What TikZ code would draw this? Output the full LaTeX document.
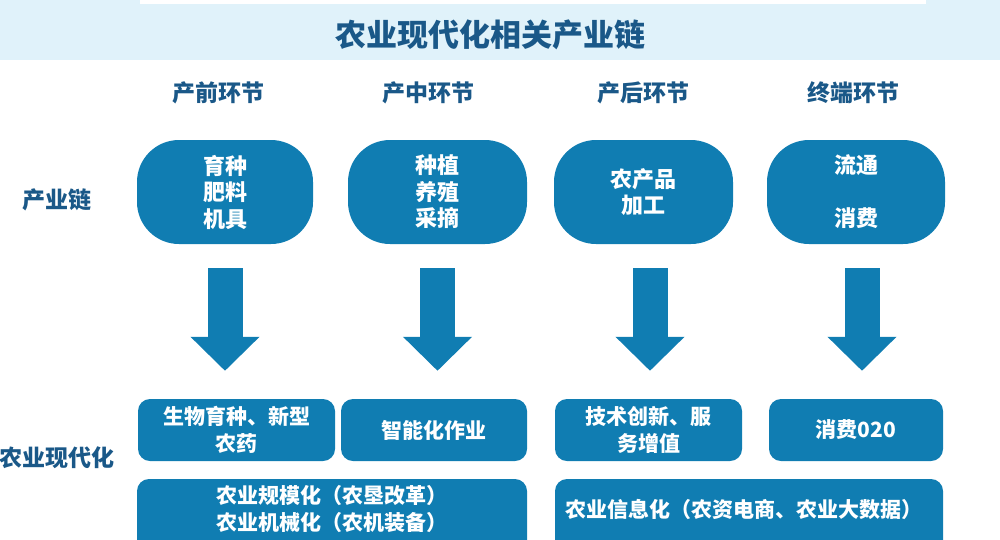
\documentclass[tikz,border=0pt]{standalone}
\usepackage{fontspec}
\setmainfont{Noto Sans CJK SC}
\usetikzlibrary{arrows.meta}
\definecolor{boxblue}{RGB}{16,125,178}
\definecolor{darkblue}{RGB}{26,88,136}
\definecolor{bandblue}{RGB}{224,242,250}
\begin{document}
\begin{tikzpicture}[x=1pt,y=-1pt,
  titletext/.style={text=darkblue, font=\bfseries\fontsize{31}{34}\selectfont, inner sep=0pt},
  headtext/.style={text=darkblue, font=\bfseries\fontsize{23}{26}\selectfont, inner sep=0pt},
  pill/.style={fill=boxblue, rounded corners=42pt, minimum height=104pt, inner sep=0pt, text=white, font=\bfseries\fontsize{22}{26.5}\selectfont, align=center},
  lowbox/.style={fill=boxblue, rounded corners=12pt, minimum height=62pt, inner sep=0pt, text=white, font=\bfseries\fontsize{21}{27}\selectfont, align=center},
  boxtext/.style={text=white, font=\bfseries\fontsize{21}{26.5}\selectfont, align=center, inner sep=0pt},
  bigarrow/.style={draw=boxblue, line width=35pt, -{Triangle[width=67pt,length=34pt,fill=boxblue]}, shorten <=24pt, shorten >=28pt}
]
\useasboundingbox (0,0) rectangle (1000,539);
\fill[bandblue] (0,0) rectangle (1000,60);
\fill[white] (140,0) rectangle (926,4);
\node[titletext] (title) at (490,35) {农业现代化相关产业链};

\node[headtext] (h1) at (218,93) {产前环节};
\node[headtext] (h2) at (428,93) {产中环节};
\node[headtext] (h3) at (643,93) {产后环节};
\node[headtext] (h4) at (853,93) {终端环节};

\node[headtext] (l1) at (57,200) {产业链};
\node[headtext] (l2) at (57,458) {农业现代化};

\node[pill, minimum width=176pt] (p1) at (225,192) {育种\\肥料\\机具};
\node[pill, minimum width=179pt] (p2) at (437.5,192) {种植\\养殖\\采摘};
\node[pill, minimum width=179pt] (p3) at (643.5,192) {农产品\\加工};
\node[pill, minimum width=178pt] (p4) at (856,192) {流通\\~\\消费};

\node[lowbox, minimum width=197pt] (b1) at (236.5,430) {生物育种、新型\\农药};
\node[lowbox, minimum width=186pt] (b2) at (434,430) {智能化作业};
\node[lowbox, minimum width=187pt] (b3) at (648.5,430) {技术创新、服\\务增值};
\node[lowbox, minimum width=174pt] (b4) at (856,430) {消费020};

\node[lowbox, minimum width=390pt, minimum height=80pt] (m1) at (332,519) {};
\node[lowbox, minimum width=388pt, minimum height=80pt] (m2) at (749,519) {};
\node[boxtext] (m1t) at (332,509) {农业规模化（农垦改革）\\农业机械化（农机装备）};
\node[boxtext] (m2t) at (744,509) {农业信息化（农资电商、农业大数据）};

\draw[bigarrow] (p1.south) -- (p1.south |- b1.north);
\draw[bigarrow] (p2.south) -- (p2.south |- b2.north);
\draw[bigarrow] ([xshift=6.5pt]p3.south) -- ([xshift=6.5pt]p3.south |- b3.north);
\draw[bigarrow] ([xshift=6pt]p4.south) -- ([xshift=6pt]p4.south |- b4.north);
\end{tikzpicture}
\end{document}
